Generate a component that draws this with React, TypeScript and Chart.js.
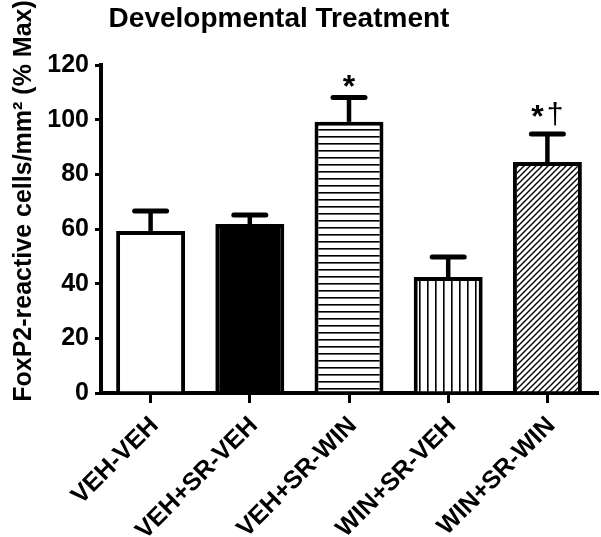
import React, { useEffect, useRef } from 'react';
import { Chart, registerables } from 'chart.js';

Chart.register(...registerables);

const chartTitle = 'Developmental Treatment';
const yTitle = 'FoxP2-reactive cells/mm\u00B2 (% Max)';
const categories = ['VEH-VEH', 'VEH+SR-VEH', 'VEH+SR-WIN', 'WIN+SR-VEH', 'WIN+SR-WIN'];
const means = [59.3, 61.8, 99.2, 42.4, 84.5];
const sems = [7.3, 3.3, 8.9, 7.4, 10.3];
const marks = ['', '', '*', '', '*\u2020'];
const markValues = [null, null, 109.5, null, 98.5];
const yTicks = [0, 20, 40, 60, 80, 100, 120];
const fills = ['white', 'black', 'hlines', 'vlines', 'diag'];

const FONT = '"Liberation Sans", Arial, sans-serif';

function makeFill(kind: string): string | CanvasPattern {
  if (kind === 'white') return '#ffffff';
  if (kind === 'black') return '#000000';
  const c = document.createElement('canvas');
  let w = 8;
  let h = 8;
  if (kind === 'hlines') { w = 8; h = 7; }
  if (kind === 'vlines') { w = 8; h = 8; }
  if (kind === 'diag') { w = 6; h = 6; }
  c.width = w;
  c.height = h;
  const g = c.getContext('2d')!;
  g.fillStyle = '#ffffff';
  g.fillRect(0, 0, w, h);
  g.strokeStyle = '#000000';
  g.fillStyle = '#000000';
  if (kind === 'hlines') {
    g.fillRect(0, 3, w, 1.6);
  } else if (kind === 'vlines') {
    g.fillRect(3, 0, 1.6, h);
  } else if (kind === 'diag') {
    g.lineWidth = 1.4;
    g.beginPath();
    g.moveTo(-1, h + 1); g.lineTo(w + 1, -1);
    g.moveTo(-1 - w, h + 1); g.lineTo(1, -1);
    g.moveTo(w - 1, h + 1); g.lineTo(2 * w + 1, -1);
    g.stroke();
  }
  const p = g.createPattern(c, 'repeat');
  return p as CanvasPattern;
}

function markFont(ch: string) {
  return ch === '*' ? `bold 32px ${FONT}` : `30px ${FONT}`;
}

const decorPlugin = {
  id: 'decor',
  afterDatasetsDraw(chart: any) {
    const ctx = chart.ctx as CanvasRenderingContext2D;
    const xs = chart.scales.x;
    const ys = chart.scales.y;
    ctx.save();
    // error bars (upper only)
    ctx.strokeStyle = '#000';
    for (let i = 0; i < means.length; i++) {
      const x = xs.getPixelForValue(i);
      const yb = ys.getPixelForValue(means[i]);
      const yt = ys.getPixelForValue(means[i] + sems[i]);
      ctx.lineCap = 'butt';
      ctx.lineWidth = 4.5;
      ctx.beginPath();
      ctx.moveTo(x, yb);
      ctx.lineTo(x, yt);
      ctx.stroke();
      ctx.lineWidth = 5;
      ctx.lineCap = 'round';
      ctx.beginPath();
      ctx.moveTo(x - 16, yt);
      ctx.lineTo(x + 16, yt);
      ctx.stroke();
    }
    // significance marks
    ctx.fillStyle = '#000';
    ctx.textAlign = 'left';
    ctx.textBaseline = 'alphabetic';
    for (let i = 0; i < marks.length; i++) {
      const v = markValues[i];
      if (!marks[i] || v === null) continue;
      const chars = Array.from(marks[i]);
      const gap = 3;
      let total = 0;
      const widths = chars.map((ch) => {
        ctx.font = markFont(ch);
        const w = ctx.measureText(ch).width;
        total += w;
        return w;
      });
      total += gap * (chars.length - 1);
      let x = xs.getPixelForValue(i) - total / 2;
      const y = ys.getPixelForValue(v);
      chars.forEach((ch, k) => {
        ctx.font = markFont(ch);
        ctx.fillText(ch, x, ch === '*' ? y + 3 : y);
        x += widths[k] + gap;
      });
    }
    ctx.restore();
  },
  afterDraw(chart: any) {
    const ctx = chart.ctx as CanvasRenderingContext2D;
    ctx.save();
    ctx.fillStyle = '#000';
    ctx.textAlign = 'center';
    ctx.textBaseline = 'alphabetic';
    ctx.font = `bold 28px ${FONT}`;
    ctx.fillText(chartTitle, 279, 27);
    ctx.translate(31, 201);
    ctx.rotate(-Math.PI / 2);
    ctx.font = `bold 25px ${FONT}`;
    ctx.fillText(yTitle, 0, 0);
    ctx.restore();
  },
};

export default function App() {
  const ref = useRef<HTMLCanvasElement | null>(null);
  useEffect(() => {
    if (!ref.current) return;
    const chart = new Chart(ref.current, {
      type: 'bar',
      data: {
        labels: categories,
        datasets: [
          {
            data: means,
            backgroundColor: fills.map(makeFill) as any,
            borderColor: '#000',
            borderWidth: 4,
            borderSkipped: 'bottom',
            barPercentage: 0.695,
            categoryPercentage: 1,
          },
        ],
      },
      options: {
        responsive: false,
        animation: false,
        devicePixelRatio: 1,
        layout: { padding: { top: 65, right: 4, left: 0, bottom: 0 } },
        plugins: {
          legend: { display: false },
          tooltip: { enabled: false },
          title: { display: false },
        },
        scales: {
          x: {
            offset: true,
            grid: {
              offset: false,
              drawOnChartArea: false,
              drawTicks: true,
              tickLength: 10,
              lineWidth: 3,
              color: '#000',
            },
            border: { display: true, width: 4, color: '#000' },
            ticks: {
              autoSkip: false,
              maxRotation: 45,
              minRotation: 45,
              padding: 8,
              labelOffset: 4,
              color: '#000',
              font: { family: FONT, weight: 'bold', size: 25 },
            },
            afterFit: (s: any) => { s.height = 144; },
          },
          y: {
            min: 0,
            max: 120,
            afterBuildTicks: (s: any) => { s.ticks = yTicks.map((v) => ({ value: v })); },
            grid: {
              drawOnChartArea: false,
              drawTicks: true,
              tickLength: 6,
              lineWidth: 3,
              color: '#000',
            },
            border: { display: true, width: 4, color: '#000' },
            ticks: {
              padding: 6,
              color: '#000',
              font: { family: FONT, weight: 'bold', size: 25 },
            },
            afterFit: (s: any) => { s.width = 101; },
          },
        },
      } as any,
      plugins: [decorPlugin],
    });
    return () => chart.destroy();
  }, []);
  return (
    <div style={{ position: 'fixed', left: 0, top: 0, width: 601, height: 537, background: '#fff' }}>
      <canvas ref={ref} width={601} height={537} style={{ width: 601, height: 537, display: 'block' }} />
    </div>
  );
}
